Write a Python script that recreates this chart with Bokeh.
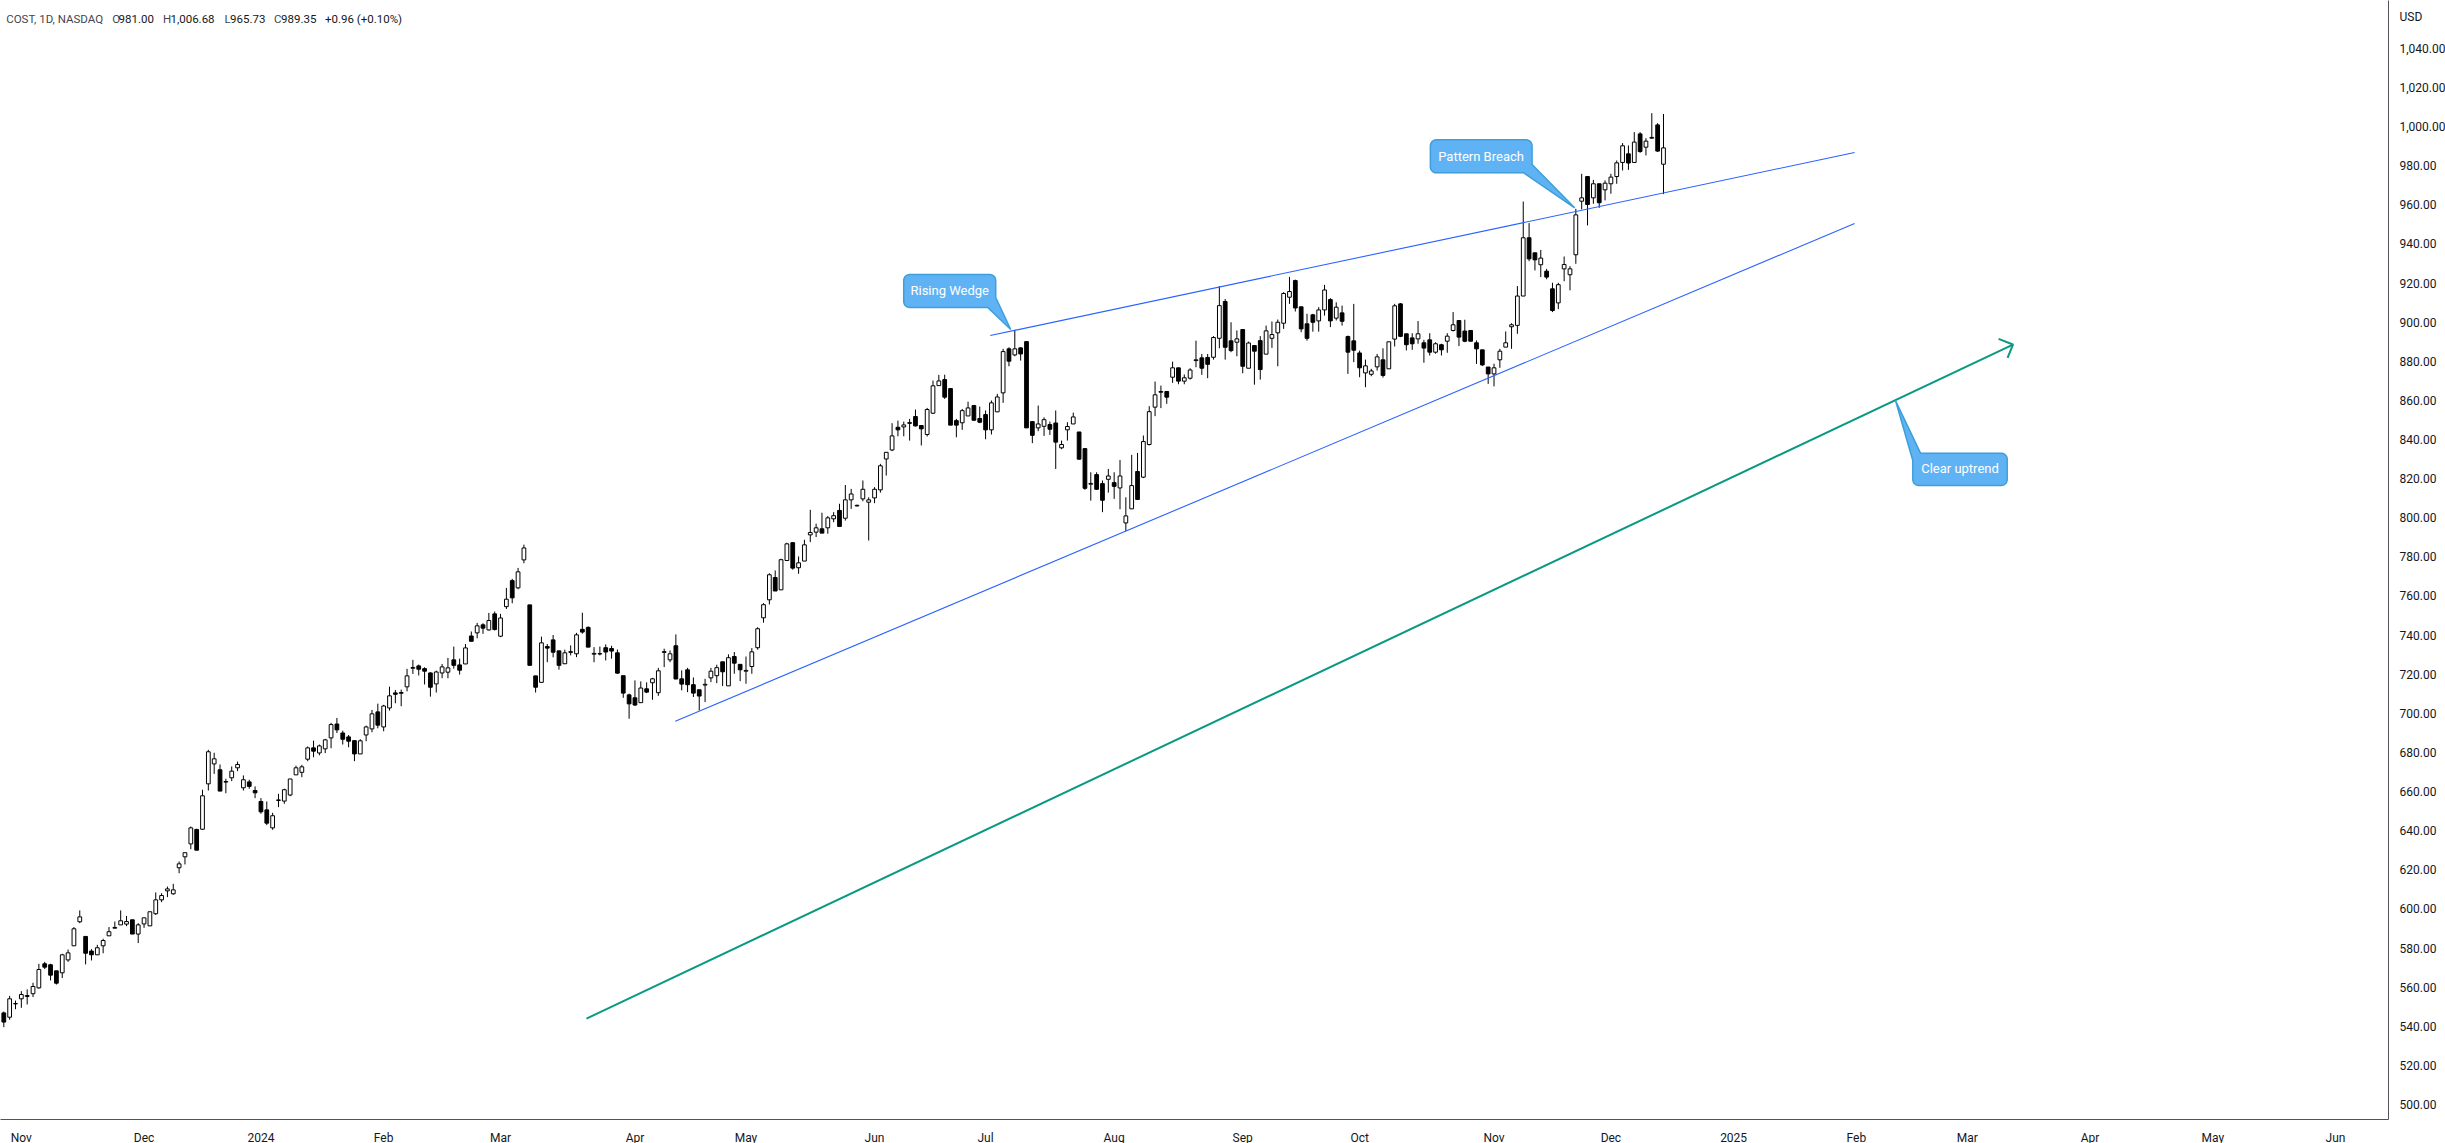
import math
from bokeh.plotting import figure
from bokeh.models import Range1d, FixedTicker, NumeralTickFormatter, ColumnDataSource
from bokeh.core.properties import value
from bokeh.embed import file_html
from bokeh.resources import INLINE

# ---------------- data (COST daily) ----------------
opens = [547.1, 544.9, 551.7, 554.3, 555.5, 556.9, 559.9, 572.2, 571.7, 568.6,
         567.6, 574.2, 581.4, 593.7, 586.2, 578.7, 576.8, 581.4, 586.5, 590.4,
         592.1, 592.5, 594.7, 587.4, 592.6, 591.6, 597.8, 604.9, 609.5, 608.0,
         621.3, 626.9, 633.5, 640.9, 641.0, 664.2, 674.4, 671.4, 665.1, 667.3,
         672.4, 662.2, 665.2, 660.8, 655.2, 650.9, 641.7, 655.7, 655.4, 658.5,
         668.8, 670.1, 676.8, 682.6, 680.0, 682.1, 687.7, 694.8, 690.2, 688.2,
         686.3, 679.5, 689.2, 692.3, 701.0, 693.3, 703.0, 710.7, 710.5, 713.8,
         723.3, 724.5, 723.1, 720.9, 715.3, 720.9, 721.3, 727.6, 725.0, 725.5,
         739.8, 741.4, 745.5, 742.9, 751.1, 739.7, 754.8, 768.1, 764.4, 778.7,
         755.7, 719.4, 716.1, 734.4, 737.8, 732.2, 725.6, 731.4, 730.7, 743.2,
         744.2, 730.5, 730.6, 733.8, 733.4, 731.2, 719.5, 709.7, 708.2, 705.7,
         712.8, 715.9, 710.8, 731.4, 727.6, 734.8, 717.9, 722.5, 714.9, 712.3,
         714.7, 718.4, 719.5, 726.6, 714.3, 729.3, 725.3, 721.8, 724.2, 733.8,
         749.1, 758.3, 769.7, 763.4, 778.4, 787.5, 774.7, 778.1, 791.5, 792.9,
         794.6, 795.1, 799.7, 804.0, 800.0, 809.4, 806.3, 809.9, 808.2, 810.4,
         814.5, 830.3, 834.9, 846.5, 846.7, 848.5, 852.0, 847.4, 842.8, 853.7,
         867.8, 870.9, 866.3, 849.9, 848.8, 852.3, 857.6, 851.0, 853.0, 845.2,
         854.4, 864.1, 886.6, 883.5, 887.1, 890.3, 849.4, 846.2, 847.0, 847.9,
         848.7, 836.0, 845.2, 848.2, 844.1, 835.6, 817.4, 822.3, 817.7, 819.9,
         818.2, 815.5, 797.6, 804.8, 823.9, 821.0, 837.7, 856.8, 864.4, 864.8,
         872.1, 876.9, 870.1, 871.6, 880.6, 882.0, 882.2, 882.3, 892.0, 910.8,
         890.7, 890.0, 896.5, 876.7, 888.3, 890.8, 883.9, 892.0, 894.8, 899.7,
         913.0, 921.5, 908.1, 899.4, 904.0, 900.9, 906.5, 911.8, 902.3, 905.0,
         892.9, 890.7, 884.5, 874.3, 873.6, 877.4, 881.0, 876.4, 891.6, 909.6,
         894.3, 892.2, 891.7, 889.7, 891.2, 884.9, 888.7, 890.5, 896.0, 901.1,
         895.7, 896.0, 889.7, 886.1, 877.3, 873.8, 881.0, 887.5, 897.9, 898.6,
         913.6, 943.4, 935.7, 929.6, 926.3, 917.3, 910.1, 927.5, 924.5, 934.7,
         962.1, 974.7, 963.8, 971.0, 967.9, 971.0, 974.7, 981.9, 986.3, 981.9,
         996.5, 989.7, 994.3, 1001.1, 981.00]
highs = [547.8, 555.8, 553.4, 558.2, 559.1, 562.5, 572.2, 573.2, 572.2, 568.6,
         577.3, 579.5, 591.0, 599.5, 586.2, 579.7, 581.9, 585.0, 591.0, 593.8,
         599.5, 596.7, 594.7, 593.0, 595.7, 598.8, 608.7, 608.3, 611.7, 613.1,
         624.5, 629.0, 642.4, 641.2, 661.2, 681.6, 680.1, 674.1, 666.8, 673.1,
         675.6, 668.5, 666.3, 662.9, 656.9, 655.2, 649.4, 659.1, 661.7, 666.7,
         673.5, 673.9, 683.3, 686.3, 684.3, 687.2, 695.4, 697.9, 691.4, 689.2,
         686.3, 687.0, 694.0, 702.0, 705.2, 704.6, 713.9, 712.2, 712.4, 723.0,
         727.6, 725.2, 723.8, 721.3, 722.1, 725.5, 728.6, 734.4, 728.2, 735.7,
         742.1, 746.5, 746.3, 751.6, 752.3, 751.1, 764.4, 769.0, 774.6, 786.5,
         755.7, 719.4, 739.5, 735.7, 740.3, 732.2, 732.8, 735.0, 741.4, 751.7,
         744.7, 734.1, 734.4, 735.5, 734.8, 732.9, 719.5, 710.3, 717.1, 716.6,
         716.1, 718.4, 723.5, 733.3, 732.4, 740.6, 722.2, 723.5, 718.6, 712.3,
         717.9, 723.5, 725.1, 726.6, 730.4, 731.6, 725.3, 729.3, 733.6, 744.3,
         756.6, 771.9, 773.3, 779.3, 787.5, 787.8, 780.5, 789.0, 804.3, 797.2,
         802.8, 801.1, 803.1, 807.4, 817.0, 815.0, 807.0, 819.3, 810.7, 815.9,
         827.8, 833.7, 848.6, 849.9, 849.4, 850.8, 855.6, 847.4, 856.4, 870.4,
         873.3, 873.4, 866.3, 850.8, 855.9, 859.6, 857.9, 857.1, 855.1, 860.2,
         863.6, 886.6, 887.4, 896.3, 887.4, 890.3, 849.4, 857.6, 851.6, 849.4,
         855.1, 839.7, 849.1, 854.0, 844.1, 835.6, 823.5, 823.5, 819.3, 825.2,
         823.5, 829.8, 810.7, 832.4, 833.4, 842.3, 857.3, 869.9, 867.8, 864.8,
         880.1, 876.9, 873.5, 876.7, 890.8, 884.0, 884.0, 893.1, 918.6, 912.1,
         900.2, 896.0, 896.5, 890.3, 888.3, 893.1, 898.5, 900.6, 901.6, 915.6,
         923.4, 922.0, 908.1, 904.5, 904.5, 907.9, 919.3, 912.5, 910.4, 908.7,
         893.4, 909.6, 885.7, 881.1, 876.4, 884.0, 886.9, 890.3, 909.6, 910.0,
         894.3, 894.6, 900.8, 891.2, 894.6, 890.0, 889.2, 894.6, 905.4, 901.1,
         901.5, 896.0, 890.9, 886.1, 877.3, 879.0, 886.6, 895.5, 899.7, 918.7,
         961.9, 950.9, 935.7, 937.2, 927.5, 920.4, 920.4, 933.8, 928.9, 958.2,
         976.1, 974.7, 973.0, 971.0, 972.7, 976.1, 982.9, 991.8, 990.6, 997.4,
         997.4, 994.3, 1007.1, 1002.0, 1006.68]
lows = [539.8, 543.6, 549.0, 549.7, 551.4, 555.2, 559.5, 569.5, 563.7, 561.6,
        564.9, 573.2, 581.4, 593.0, 571.9, 573.9, 576.8, 577.6, 586.5, 590.4,
        592.1, 591.5, 587.4, 582.8, 590.6, 591.6, 597.2, 603.7, 606.3, 607.5,
        618.5, 623.0, 630.8, 630.3, 640.7, 660.8, 669.3, 660.5, 659.4, 665.6,
        670.7, 660.8, 661.7, 656.9, 648.9, 643.1, 640.7, 652.3, 654.0, 657.9,
        668.8, 667.6, 675.8, 677.8, 678.8, 679.9, 682.4, 690.2, 684.3, 682.9,
        675.8, 679.5, 686.0, 690.6, 692.6, 691.1, 701.7, 705.4, 703.9, 711.5,
        720.4, 719.6, 715.0, 708.8, 710.9, 718.2, 718.2, 723.1, 720.1, 725.5,
        737.1, 738.6, 740.9, 742.6, 742.6, 739.2, 753.6, 756.5, 763.7, 777.0,
        724.8, 710.9, 716.1, 726.4, 728.9, 722.6, 725.6, 729.9, 729.0, 741.0,
        734.1, 726.4, 729.9, 727.3, 728.2, 720.5, 708.2, 697.5, 704.0, 705.7,
        710.6, 707.2, 709.2, 723.9, 726.4, 717.8, 712.0, 711.1, 708.6, 701.7,
        706.0, 716.2, 715.7, 714.2, 714.3, 720.5, 716.7, 715.4, 720.5, 732.8,
        746.6, 755.9, 762.8, 763.4, 778.1, 773.7, 771.6, 778.1, 787.8, 790.4,
        792.4, 792.1, 798.0, 795.5, 798.8, 804.8, 806.0, 808.7, 788.6, 807.7,
        813.1, 821.8, 834.3, 841.9, 841.9, 839.7, 846.9, 837.2, 841.8, 853.3,
        867.8, 861.0, 847.6, 841.4, 845.2, 852.3, 849.9, 848.6, 840.4, 842.8,
        854.4, 859.0, 877.7, 882.8, 880.6, 846.2, 838.4, 844.5, 842.1, 842.6,
        825.2, 835.3, 839.7, 848.2, 829.8, 814.5, 809.0, 814.5, 803.1, 813.1,
        809.9, 804.6, 793.4, 804.8, 809.6, 820.5, 837.2, 852.2, 856.3, 858.5,
        869.2, 868.5, 868.5, 870.9, 877.2, 873.3, 871.6, 881.1, 886.9, 881.1,
        884.9, 882.8, 874.1, 876.7, 868.3, 870.9, 883.9, 887.1, 877.7, 896.8,
        909.6, 905.7, 895.1, 890.8, 895.4, 895.4, 903.6, 897.7, 901.1, 898.5,
        873.8, 879.8, 872.1, 867.0, 872.6, 875.5, 871.9, 876.4, 887.8, 892.6,
        885.8, 886.1, 889.2, 879.5, 883.2, 884.1, 883.2, 884.6, 895.5, 888.0,
        890.0, 890.5, 878.9, 877.8, 868.7, 867.4, 876.9, 887.5, 886.6, 894.3,
        913.6, 931.4, 926.7, 923.3, 922.2, 905.4, 906.9, 921.2, 916.5, 930.1,
        957.9, 949.7, 960.8, 958.7, 962.5, 965.9, 971.0, 977.8, 978.1, 981.9,
        986.8, 985.5, 994.0, 987.3, 965.73]
closes = [542.4, 554.3, 551.9, 556.5, 556.0, 560.6, 569.3, 570.5, 566.4, 562.3,
          576.8, 577.8, 590.1, 596.2, 577.6, 576.8, 580.4, 584.1, 588.6, 590.8,
          594.2, 593.8, 587.4, 592.1, 595.7, 598.8, 604.9, 607.1, 610.5, 610.0,
          623.3, 629.0, 641.7, 630.3, 658.1, 680.6, 677.0, 660.5, 665.4, 670.7,
          674.1, 666.3, 662.9, 659.6, 649.9, 644.1, 647.9, 656.0, 661.2, 666.7,
          672.4, 672.9, 682.6, 680.9, 683.6, 686.7, 694.5, 691.8, 687.0, 686.0,
          679.5, 686.2, 693.3, 700.0, 694.2, 704.0, 709.2, 710.0, 710.9, 719.4,
          723.7, 722.8, 721.8, 713.6, 721.4, 724.0, 723.5, 724.8, 722.3, 733.7,
          737.1, 745.0, 743.8, 747.7, 743.1, 749.0, 758.6, 759.3, 772.6, 784.8,
          724.8, 713.6, 736.3, 733.6, 731.5, 724.8, 731.2, 731.8, 740.4, 741.8,
          734.1, 730.9, 730.8, 731.6, 732.1, 720.8, 710.6, 705.1, 704.5, 713.2,
          711.1, 717.9, 722.0, 731.8, 730.7, 717.8, 715.2, 714.9, 710.6, 709.1,
          715.1, 721.8, 723.6, 721.5, 728.7, 725.9, 722.5, 722.2, 731.7, 743.5,
          755.8, 771.1, 762.8, 778.8, 786.9, 774.5, 777.2, 786.4, 792.7, 795.1,
          792.4, 800.2, 801.3, 795.8, 809.4, 812.4, 806.6, 814.8, 809.4, 814.8,
          826.8, 833.7, 842.1, 845.2, 847.7, 848.9, 847.2, 845.7, 855.6, 867.7,
          870.2, 861.9, 847.6, 847.6, 855.0, 856.4, 850.1, 849.1, 845.2, 859.0,
          862.0, 885.2, 880.3, 886.6, 884.0, 846.2, 842.4, 848.2, 850.4, 845.5,
          838.9, 837.7, 846.9, 851.8, 830.2, 815.3, 817.8, 814.8, 809.2, 821.6,
          816.3, 821.6, 801.2, 816.7, 809.6, 839.2, 854.5, 863.1, 864.8, 861.9,
          876.9, 870.1, 871.8, 875.8, 881.0, 876.7, 878.7, 892.4, 908.7, 887.4,
          885.7, 891.7, 877.7, 889.6, 885.4, 876.0, 895.8, 893.9, 900.2, 914.9,
          915.9, 907.5, 896.8, 892.0, 900.2, 906.5, 916.7, 900.9, 907.9, 900.7,
          884.9, 885.9, 876.9, 877.9, 875.3, 882.5, 873.0, 890.2, 908.6, 893.0,
          888.7, 889.2, 894.3, 887.0, 884.9, 889.2, 886.1, 893.1, 898.9, 892.6,
          890.5, 890.5, 886.6, 878.4, 873.8, 876.9, 885.4, 889.7, 898.9, 913.6,
          943.4, 932.6, 932.1, 933.0, 923.3, 906.2, 919.4, 929.7, 927.5, 955.1,
          963.8, 960.4, 971.0, 961.3, 971.3, 974.4, 981.7, 990.4, 981.6, 992.3,
          987.5, 992.8, 994.7, 987.7, 989.35]

# month label positions, as trading-day index from the first bar (27 Oct 2023)
month_ticks = [3, 24, 44, 65, 85, 108, 127, 149, 168, 190, 212, 232, 255, 275,
               296, 317, 336, 357, 378, 399]
month_labels = ["Nov", "Dec", "2024", "Feb", "Mar", "Apr", "May", "Jun", "Jul",
                "Aug", "Sep", "Oct", "Nov", "Dec", "2025", "Feb", "Mar", "Apr",
                "May", "Jun"]
price_ticks = list(range(500, 1041, 20))
currency_tick = 1056.3
currency_label = "USD"

# drawings (bar index, price)
wedge_upper_x = [168.8, 316.7]
wedge_upper_y = [893.4, 987.0]
wedge_lower_x = [114.9, 316.7]
wedge_lower_y = [696.2, 950.7]
uptrend_x = [99.7, 343.8]
uptrend_y = [544.2, 888.8]

callout_texts = ["Rising Wedge", "Pattern Breach", "Clear uptrend"]
callout_tip_x = [172.3, 268.8, 323.7]
callout_tip_y = [896.5, 958.7, 860.2]

# ---------------- figure ----------------
FW, FH = 2388, 1119
X0, X1 = -0.565, 408.06
Y0, Y1 = 492.6, 1064.7
PXX = FW / (X1 - X0)
PXY = FH / (Y1 - Y0)

p = figure(frame_width=FW, frame_height=FH, output_backend="svg",
           toolbar_location=None, x_range=Range1d(X0, X1), y_range=Range1d(Y0, Y1),
           y_axis_location="right", min_border_left=0, min_border_top=0,
           min_border_right=57, min_border_bottom=24)
p.outline_line_color = None
p.xgrid.grid_line_color = None
p.ygrid.grid_line_color = None
p.background_fill_color = "white"
p.border_fill_color = "white"

FONT = "Roboto"
for ax in (p.xaxis[0], p.yaxis[0]):
    ax.axis_line_color = "#50535e"
    ax.axis_line_width = 1
    ax.major_tick_line_color = None
    ax.minor_tick_line_color = None
    ax.major_label_text_font = FONT
    ax.major_label_text_font_size = "12px"
    ax.major_label_text_color = "#131722"

p.yaxis[0].ticker = FixedTicker(ticks=price_ticks + [currency_tick])
p.yaxis[0].formatter = NumeralTickFormatter(format="0,0.00")
p.yaxis[0].major_label_overrides = {currency_tick: currency_label}
p.yaxis[0].major_label_standoff = 5
p.xaxis[0].ticker = FixedTicker(ticks=month_ticks)
p.xaxis[0].major_label_overrides = {t: l for t, l in zip(month_ticks, month_labels)}
p.xaxis[0].major_label_standoff = 5

# ---------------- candles ----------------
idx = list(range(len(opens)))
tops = [max(o, c) for o, c in zip(opens, closes)]
bots = [min(o, c) for o, c in zip(opens, closes)]
fills = ["white" if c >= o else "black" for o, c in zip(opens, closes)]
src = ColumnDataSource(dict(x=idx, o=opens, h=highs, l=lows, c=closes,
                            top=tops, bot=bots, fill=fills))
p.segment(x0="x", y0="l", x1="x", y1="h", source=src, line_color="black", line_width=1)
p.vbar(x="x", width=0.64, top="top", bottom="bot", source=src,
       fill_color="fill", line_color="black", line_width=1)

# ---------------- trend lines ----------------
BLUE = "#2962ff"
p.line(wedge_upper_x, wedge_upper_y, line_color=BLUE, line_width=1.1)
p.line(wedge_lower_x, wedge_lower_y, line_color=BLUE, line_width=1.1)
GREEN = "#089981"
p.line(uptrend_x, uptrend_y, line_color=GREEN, line_width=2)
tx, ty = uptrend_x[-1], uptrend_y[-1]
wing = [(-14.4, -5.7), (0, 0), (-5.4, 13.3)]
p.line([tx + dx / PXX for dx, dy in wing], [ty - dy / PXY for dx, dy in wing],
       line_color=GREEN, line_width=2)

# ---------------- callouts ----------------
def arc(cx, cy, r, a0, a1, n=7):
    return [(cx + r * math.cos(math.radians(a0 + (a1 - a0) * k / n)),
             cy + r * math.sin(math.radians(a0 + (a1 - a0) * k / n))) for k in range(n + 1)]

def shape_br(l, t, r, b, base_r_y, base_b_x, rad=6):
    return (arc(l + rad, t + rad, rad, 180, 270) + arc(r - rad, t + rad, rad, 270, 360)
            + [(r, base_r_y), (0, 0), (base_b_x, b)] + arc(l + rad, b - rad, rad, 90, 180))

def shape_tl(l, t, r, b, base_l_y, base_t_x, rad=6):
    return ([(base_t_x, t)] + arc(r - rad, t + rad, rad, 270, 360)
            + arc(r - rad, b - rad, rad, 0, 90) + arc(l + rad, b - rad, rad, 90, 180)
            + [(l, base_l_y), (0, 0)])

# shapes in pixels relative to each tip (y down)
shapes = [shape_br(-107, -55, -15, -22, -32, -23),
          shape_br(-144.3, -68, -42.6, -35, -43.3, -51),
          shape_tl(17.3, 52.7, 111.7, 85, 60, 25)]
text_off = [(-61, -38.5), (-93.6, -51.8), (64.5, 68.2)]

for txt, cx, cy, shp, (ox, oy) in zip(callout_texts, callout_tip_x, callout_tip_y, shapes, text_off):
    xs = [cx + dx / PXX for dx, dy in shp]
    ys = [cy - dy / PXY for dx, dy in shp]
    p.patch(xs, ys, fill_color="#5fb3f4", line_color="#3c9fd9", line_width=1.5)
    p.text(x=[cx + ox / PXX], y=[cy - oy / PXY], text=[txt], text_color="white",
           text_font=value(FONT), text_font_size="13px", text_align="center",
           text_baseline="middle")

# ---------------- header legend ----------------
hy = Y1 - 18 / PXY
pieces = [(5.7, "COST, 1D, NASDAQ", "#434651"), (111.7, "O", "#434651"), (118.0, "981.00", "#131722"),
          (162.6, "H", "#434651"), (170.0, "1,006.68", "#131722"), (223.9, "L", "#434651"),
          (229.5, "965.73", "#131722"), (273.6, "C", "#434651"), (280.5, "989.35", "#131722"),
          (324.5, "+0.96 (+0.10%)", "#131722")]
for px, t, col in pieces:
    p.text(x=[X0 + px / PXX], y=[hy], text=[t], text_color=col, text_font=value(FONT),
           text_font_size="11.5px", text_align="left", text_baseline="middle")

open("out.html", "w").write(file_html(p, INLINE))
